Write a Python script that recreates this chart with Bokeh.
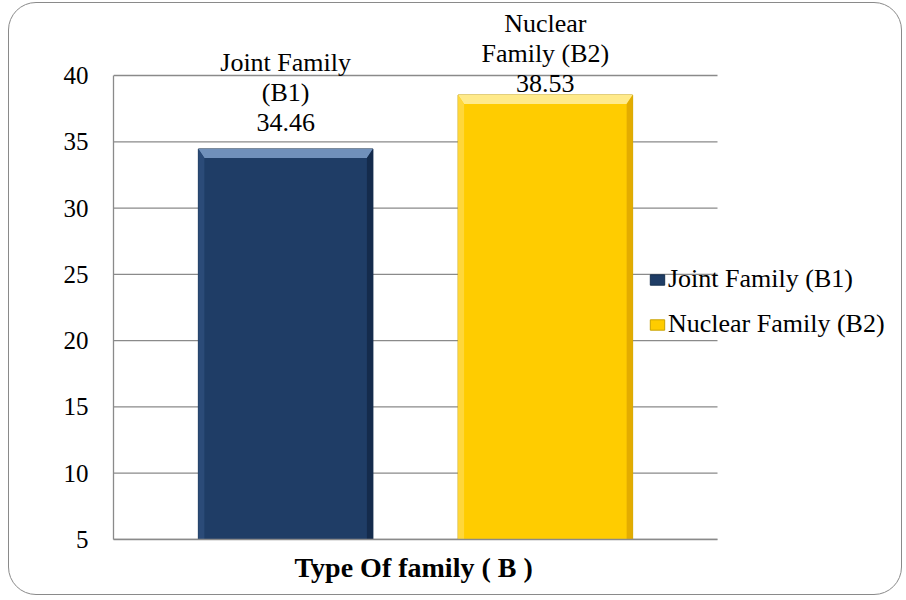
from bokeh.plotting import figure
from bokeh.models import Range1d, FixedTicker, ColumnDataSource, Legend, LegendItem, Title
from bokeh.embed import file_html
from bokeh.resources import INLINE
from bokeh.core.properties import value

# ---- data ----
category = "Type Of family ( B )"
series_names = ["Joint Family (B1)", "Nuclear Family (B2)"]
label_names = ["Joint Family\n(B1)", "Nuclear\nFamily (B2)"]
values = [34.46, 38.53]
y_ticks = [5, 10, 15, 20, 25, 30, 35, 40]

# ---- styles ----
face = ["#1F3D66", "#FFCC00"]
top_bev = ["#7090BA", "#FFEA8A"]
left_bev = ["#2B4B78", "#FFD73A"]
right_bev = ["#142B4C", "#E3AC00"]
edge = ["#16304F", "#C9A200"]
offsets = [-0.215, 0.215]          # dodge of each series inside the category
bar_w = 0.289
label_yoff = [-12, 3]
FONT = "Liberation Serif"
GRID = "#8A8A8A"

W, H = 894, 593                    # canvas inside the rounded border
ML, MB = 104, 57                   # plot area left / bottom borders
FW, FH = W - ML, H - MB
AREA_PX = 604                      # pixel width of the plot area (x 0..1)
y0, y1 = 5, 40
PX_PER_Y = 464 / (y1 - y0)

p = figure(width=W, height=H, output_backend="svg", toolbar_location=None,
           x_range=Range1d(0, FW / AREA_PX),
           y_range=Range1d(y0, y0 + FH / PX_PER_Y),
           min_border_left=ML, min_border_right=0, min_border_top=0,
           min_border_bottom=MB)
p.outline_line_color = None
p.background_fill_alpha = 0
p.border_fill_alpha = 0
p.styles = {"border": "1.5px solid #8A8A8A", "border-radius": "28px",
            "margin-left": "8px", "margin-top": "2px"}

# grid / axes
p.xgrid.grid_line_color = None
p.ygrid.grid_line_color = None
p.segment(x0=0, x1=1, y0=y_ticks, y1=y_ticks, line_color=GRID, line_width=1.3)

p.yaxis.ticker = FixedTicker(ticks=y_ticks)
p.yaxis.bounds = (y0, y1)
p.yaxis.axis_line_color = GRID
p.yaxis.axis_line_width = 1.3
p.yaxis.major_tick_line_color = None
p.yaxis.minor_tick_line_color = None
p.yaxis.major_tick_out = 0
p.yaxis.major_tick_in = 0
p.yaxis.major_label_standoff = 25
p.yaxis.major_label_text_font = FONT
p.yaxis.major_label_text_font_size = "25px"
p.yaxis.major_label_text_color = "black"

p.xaxis.ticker = FixedTicker(ticks=[])
p.xaxis.bounds = (0, 1)
p.xaxis.axis_line_color = GRID
p.xaxis.axis_line_width = 1.3
p.xaxis.major_tick_line_color = None
p.xaxis.minor_tick_line_color = None
p.xaxis.major_tick_out = 0
p.xaxis.major_tick_in = 0
p.xaxis.major_label_standoff = 0

# category title under the plot area, aligned on the plot area's centre
p.add_layout(Title(text=category, align="left", offset=181, standoff=21,
                   vertical_align="bottom",
                   text_font=FONT, text_font_size="28px", text_font_style="bold",
                   text_color="black"), "below")

# pixel -> data conversions for the bevel size
px_x = 1.0 / AREA_PX
px_y = 1.0 / PX_PER_Y
bt, bs = 9, 6   # top and side bevel in px

legend_items = []
for i, name in enumerate(series_names):
    cx = 0.5 + offsets[i]
    src = ColumnDataSource(dict(x=[cx], top=[values[i]],
                                txt=[label_names[i] + "\n" + f"{values[i]:.2f}"]))
    r = p.vbar(x="x", top="top", bottom=y0, width=bar_w, source=src,
               fill_color=face[i], line_color=edge[i], line_width=1)
    legend_items.append(LegendItem(label=name, renderers=[r]))

    # bevel facets computed from the bar's data value
    xl, xr = cx - bar_w / 2, cx + bar_w / 2
    yt, yb = values[i], y0
    dx, dyt = bs * px_x, bt * px_y
    p.patch(x=[xl, xr, xr - dx, xl + dx], y=[yt, yt, yt - dyt, yt - dyt],
            fill_color=top_bev[i], line_color=None)
    p.patch(x=[xl, xl + dx, xl + dx, xl], y=[yt, yt - dyt, yb, yb],
            fill_color=left_bev[i], line_color=None)
    p.patch(x=[xr, xr - dx, xr - dx, xr], y=[yt, yt - dyt, yb, yb],
            fill_color=right_bev[i], line_color=None)

    p.text(x="x", y="top", text="txt", source=src, text_font=value(FONT),
           text_font_size="26px", text_align="center", text_baseline="bottom",
           text_line_height=1.03, text_color="black", y_offset=label_yoff[i])

legend = Legend(items=legend_items, location=(535, 200), orientation="vertical",
                label_text_font=FONT, label_text_font_size="26px",
                label_text_color="black", glyph_width=18, glyph_height=13,
                label_standoff=2, spacing=15, padding=0, margin=0,
                border_line_color=None, background_fill_alpha=0)
p.add_layout(legend, "center")

open("out.html", "w").write(file_html(p, INLINE))
